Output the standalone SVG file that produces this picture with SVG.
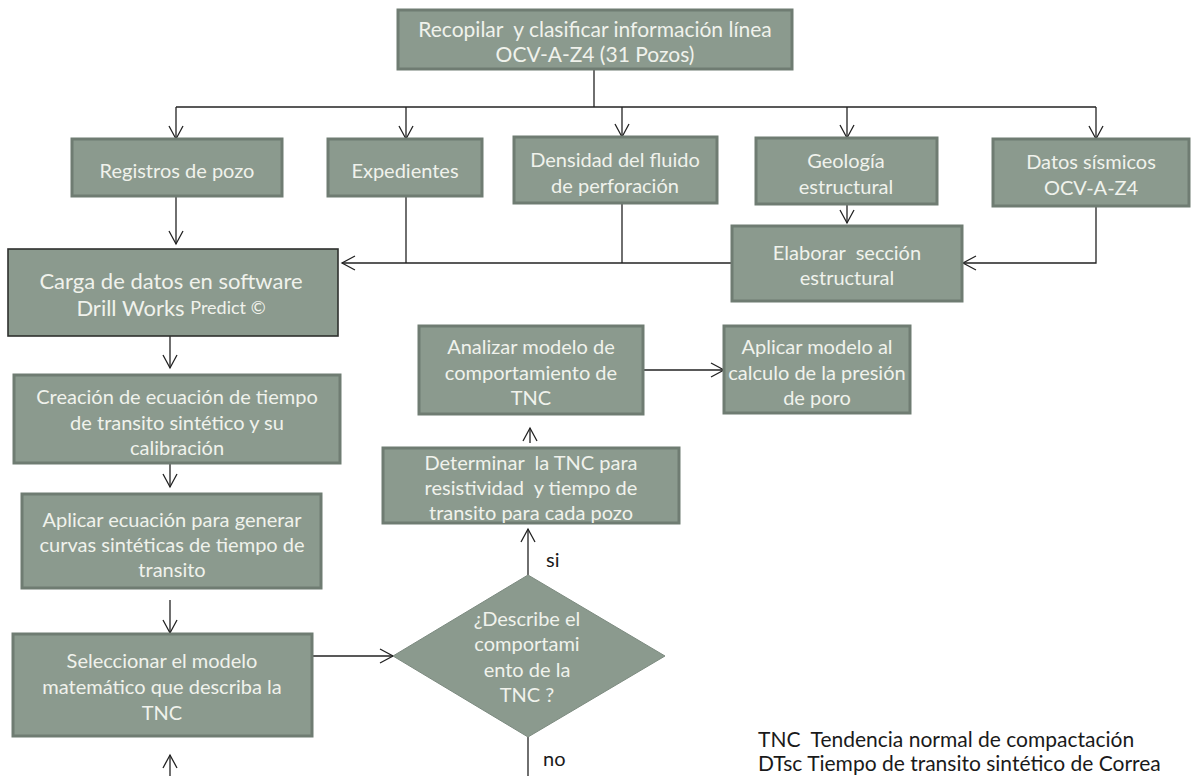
<svg xmlns="http://www.w3.org/2000/svg" width="1194" height="776" viewBox="0 0 1194 776">
<style>
.box{fill:#8b9a8e;stroke:#6f7c72;stroke-width:3}
.dark{fill:#8b9a8e;stroke:#2e302e;stroke-width:1.6}
.dia{fill:#8b9a8e;stroke:#7d8b80;stroke-width:1}
.t{font-family:Lato,"Open Sans","Liberation Sans",sans-serif;font-size:20px;fill:#f0f2ec;text-anchor:middle;dominant-baseline:central;white-space:pre}
.top{font-size:21px}
.big{font-size:22px}
.sm{font-size:18px}
.lbl{font-family:Lato,"Open Sans","Liberation Sans",sans-serif;font-size:20px;fill:#1a1a1a;dominant-baseline:central;white-space:pre}
.leg{font-size:21px}
.c{fill:none;stroke:#222;stroke-width:1.3}
.a{marker-end:url(#arr)}
</style>
<defs>
<marker id="arr" viewBox="-15 -9 17 18" refX="0" refY="0" markerWidth="17" markerHeight="18" markerUnits="userSpaceOnUse" orient="auto">
<path d="M-13,-7 L0,0 L-13,7" fill="none" stroke="#222" stroke-width="1.3"/>
</marker>
</defs>
<rect width="1194" height="776" fill="#ffffff"/>
<g id="connectors">
<path class="c" d="M594 69 V107"/>
<path class="c" d="M176 107 H1096"/>
<path class="c a" d="M176 107 V139"/>
<path class="c a" d="M406 107 V139"/>
<path class="c a" d="M622 107 V137"/>
<path class="c a" d="M847 107 V138"/>
<path class="c a" d="M1096 107 V139"/>
<path class="c a" d="M176 196 V244"/>
<path class="c" d="M406 196 V263"/>
<path class="c" d="M622 203 V263"/>
<path class="c a" d="M732 263 H342"/>
<path class="c a" d="M847 204 V223"/>
<path class="c a" d="M1096 206 V263 H963"/>
<path class="c a" d="M170 336 V368"/>
<path class="c a" d="M170 463 V487"/>
<path class="c a" d="M170 600 V633"/>
<path class="c a" d="M170 776 V755"/>
<path class="c a" d="M312 656 H393"/>
<path class="c a" d="M528 575 V529"/>
<path class="c a" d="M530 443 V428"/>
<path class="c a" d="M643 370 H724"/>
<path class="c" d="M528 737 V776"/>
</g>
<g id="n-recopilar">
<rect class="box" x="398" y="10" width="394" height="59"/>
<text class="t top" x="595" y="28" xml:space="preserve">Recopilar  y clasificar información línea</text>
<text class="t top" x="595" y="53">OCV-A-Z4 (31 Pozos)</text>
</g>
<g id="n-registros">
<rect class="box" x="72" y="139" width="210" height="57"/>
<text class="t" x="177" y="170">Registros de pozo</text>
</g>
<g id="n-expedientes">
<rect class="box" x="328" y="139" width="154" height="57"/>
<text class="t" x="405" y="170">Expedientes</text>
</g>
<g id="n-densidad">
<rect class="box" x="514" y="137" width="203" height="66"/>
<text class="t" x="615" y="159">Densidad del fluido</text>
<text class="t" x="615" y="185">de perforación</text>
</g>
<g id="n-geologia">
<rect class="box" x="756" y="138" width="181" height="66"/>
<text class="t" x="846" y="160">Geología</text>
<text class="t" x="846" y="186">estructural</text>
</g>
<g id="n-datos">
<rect class="box" x="993" y="139" width="196" height="67"/>
<text class="t" x="1091" y="161">Datos sísmicos</text>
<text class="t" x="1091" y="187">OCV-A-Z4</text>
</g>
<g id="n-elaborar">
<rect class="box" x="732" y="226" width="230" height="75"/>
<text class="t" x="847" y="252" xml:space="preserve">Elaborar  sección</text>
<text class="t" x="847" y="277">estructural</text>
</g>
<g id="n-carga">
<rect class="dark" x="8" y="249" width="330" height="87"/>
<text class="t big" x="171" y="280">Carga de datos en software</text>
<text class="t big" x="171" y="307">Drill Works <tspan class="sm">Predict ©</tspan></text>
</g>
<g id="n-creacion">
<rect class="box" x="14" y="375" width="326" height="88"/>
<text class="t" x="177" y="396">Creación de ecuación de tiempo</text>
<text class="t" x="177" y="422">de transito sintético y su</text>
<text class="t" x="177" y="447">calibración</text>
</g>
<g id="n-aplicar-ecuacion">
<rect class="box" x="22" y="494" width="299" height="94"/>
<text class="t" x="172" y="519">Aplicar ecuación para generar</text>
<text class="t" x="172" y="544">curvas sintéticas de tiempo de</text>
<text class="t" x="172" y="569">transito</text>
</g>
<g id="n-seleccionar">
<rect class="box" x="13" y="634" width="299" height="102"/>
<text class="t" x="162" y="660">Seleccionar el modelo</text>
<text class="t" x="162" y="686">matemático que describa la</text>
<text class="t" x="162" y="712">TNC</text>
</g>
<g id="n-analizar">
<rect class="box" x="419" y="326" width="224" height="88"/>
<text class="t" x="531" y="346">Analizar modelo de</text>
<text class="t" x="531" y="372">comportamiento de</text>
<text class="t" x="531" y="397">TNC</text>
</g>
<g id="n-aplicar-modelo">
<rect class="box" x="724" y="326" width="186" height="87"/>
<text class="t" x="817" y="346">Aplicar modelo al</text>
<text class="t" x="817" y="372">calculo de la presión</text>
<text class="t" x="817" y="397">de poro</text>
</g>
<g id="n-determinar">
<rect class="box" x="383" y="448" width="296" height="75"/>
<text class="t" x="531" y="462" xml:space="preserve">Determinar  la TNC para</text>
<text class="t" x="531" y="487" xml:space="preserve">resistividad  y tiempo de</text>
<text class="t" x="531" y="512">transito para cada pozo</text>
</g>
<g id="n-describe">
<polygon class="dia" points="393,656 528,575 665,656 528,737"/>
<text class="t" x="527" y="618">¿Describe el</text>
<text class="t" x="527" y="643">comportami</text>
<text class="t" x="527" y="669">ento de la</text>
<text class="t" x="527" y="694">TNC ?</text>
</g>
<g id="labels">
<text class="lbl" x="546" y="559">si</text>
<text class="lbl" x="543" y="758">no</text>
<text class="lbl leg" x="758" y="738" xml:space="preserve">TNC  Tendencia normal de compactación</text>
<text class="lbl leg" x="758" y="762">DTsc Tiempo de transito sintético de Correa</text>
</g>
</svg>
